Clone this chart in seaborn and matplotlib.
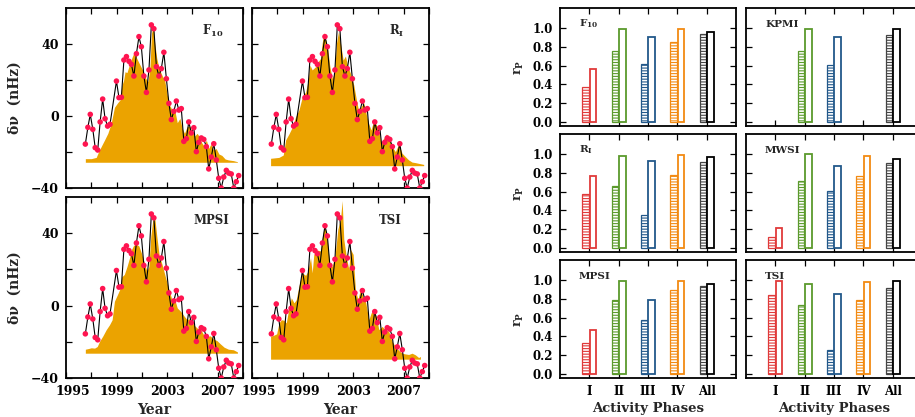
import numpy as np
import pandas as pd
import matplotlib
matplotlib.use("Agg")
import matplotlib.pyplot as plt
from matplotlib.transforms import ScaledTranslation
import seaborn as sns

# ---------------- data: frequency shift (same in all four left panels) ----------------
years = [1996.53, 1996.73, 1996.92, 1997.12, 1997.31, 1997.51, 1997.70, 1997.90, 1998.09, 1998.29, 1998.48,
         1998.99, 1999.19, 1999.38, 1999.58, 1999.78, 1999.98, 2000.17, 2000.37, 2000.57, 2000.77,
         2000.96, 2001.16, 2001.36, 2001.56, 2001.75, 2001.95, 2002.15, 2002.35, 2002.54, 2002.74,
         2002.94, 2003.14, 2003.33, 2003.53, 2003.73, 2003.93, 2004.12, 2004.32, 2004.52, 2004.71,
         2004.91, 2005.11, 2005.31, 2005.50, 2005.70, 2005.90, 2006.10, 2006.29, 2006.49, 2006.69,
         2006.89, 2007.08, 2007.28, 2007.48, 2007.68, 2007.87, 2008.07, 2008.27, 2008.47, 2008.66]
dnu = [-15.6, -6.3, 0.9, -7.4, -17.6, -18.9, -3.3, 9.4, -1.5, -5.6, -4.6,
       19.4, 10.2, 10.4, 31.1, 33.0, 30.4, 28.7, 22.2, 34.6, 44.1,
       38.5, 22.2, 13.1, 25.6, 50.6, 48.5, 27.4, 22.2, 26.3, 35.4,
       20.7, 7.0, -2.0, 2.6, 8.3, 3.3, 4.1, -14.1, -12.6, -3.3,
       -9.4, -6.5, -19.8, -14.6, -12.2, -13.0, -17.0, -29.4, -22.8, -15.4,
       -24.4, -34.6, -40.0, -33.9, -30.2, -31.7, -32.2, -40.0, -36.5, -33.1]

# ---------------- scaled activity proxies (orange areas) ----------------
f10_years = [1996.53, 1997.00, 1997.39, 1997.58, 1997.78, 1998.05, 1998.31, 1998.57, 1998.83, 1999.09,
             1999.27, 1999.41, 1999.56, 1999.67, 1999.82, 2000.01, 2000.19, 2000.35, 2000.48, 2000.66,
             2000.92, 2001.13, 2001.31, 2001.47, 2001.63, 2001.76, 2001.89, 2002.02, 2002.18, 2002.36,
             2002.62, 2002.80, 2003.01, 2003.22, 2003.41, 2003.59, 2003.80, 2004.01, 2004.19, 2004.37,
             2004.58, 2004.79, 2004.97, 2005.18, 2005.37, 2005.55, 2005.73, 2005.92, 2006.10, 2006.28,
             2006.46, 2006.67, 2006.88, 2007.09, 2007.33, 2007.59, 2007.85, 2008.24, 2008.56]
f10_vals = [-23.7, -23.7, -23.0, -19.8, -17.0, -13.3, -9.6, -4.1, 4.8, 7.4,
            8.9, 16.7, 20.0, 24.6, 24.1, 28.3, 32.0, 34.8, 33.9, 31.1,
            27.4, 24.6, 20.9, 19.1, 25.6, 45.9, 50.0, 40.4, 32.0, 26.5,
            22.2, 20.0, 11.7, 5.6, 3.3, 3.7, -3.7, -1.3, -6.9, -9.6,
            -5.9, -5.6, -8.7, -11.1, -9.6, -11.5, -14.8, -16.7, -13.3, -18.0,
            -15.6, -18.9, -18.1, -21.1, -21.9, -23.9, -24.4, -24.8, -25.4]
f10_base = -25.7

ri_years = [1996.47, 1996.74, 1997.13, 1997.47, 1997.66, 1997.92, 1998.18, 1998.45, 1998.71, 1998.97,
            1999.24, 1999.45, 1999.58, 1999.76, 2000.03, 2000.21, 2000.42, 2000.55, 2000.68, 2000.84,
            2001.00, 2001.16, 2001.34, 2001.53, 2001.68, 2001.84, 2002.00, 2002.21, 2002.39, 2002.58,
            2002.79, 2003.05, 2003.26, 2003.45, 2003.63, 2003.84, 2004.05, 2004.24, 2004.42, 2004.63,
            2004.84, 2005.03, 2005.21, 2005.42, 2005.63, 2005.82, 2006.08, 2006.34, 2006.61, 2006.87,
            2007.13, 2007.39, 2007.66, 2007.92, 2008.18, 2008.58]
ri_vals = [-23.5, -23.3, -23.0, -21.7, -13.3, -10.0, -6.3, -0.4, 3.3, 10.4,
           13.3, 20.0, 28.3, 25.6, 27.4, 30.0, 32.0, 40.4, 46.3, 42.2,
           36.7, 27.4, 20.9, 24.1, 40.4, 46.9, 40.4, 31.1, 33.3, 27.4,
           23.7, 17.2, 8.9, 2.4, 5.2, 7.4, 0.6, -4.4, -7.8, -2.2,
           -5.0, -8.7, -15.2, -12.4, -10.0, -11.5, -17.0, -19.8, -15.6, -20.7,
           -22.6, -24.4, -25.6, -25.9, -26.3, -26.9]
ri_base = -27.6

mpsi_years = [1996.53, 1996.79, 1997.00, 1997.26, 1997.47, 1997.65, 1997.92, 1998.18, 1998.44, 1998.65,
              1998.83, 1999.04, 1999.25, 1999.41, 1999.61, 1999.82, 2000.03, 2000.19, 2000.35, 2000.56,
              2000.76, 2000.97, 2001.18, 2001.39, 2001.55, 2001.71, 2001.86, 2002.02, 2002.18, 2002.36,
              2002.62, 2002.88, 2003.14, 2003.41, 2003.59, 2003.80, 2004.06, 2004.32, 2004.58, 2004.84,
              2005.10, 2005.37, 2005.63, 2005.89, 2006.15, 2006.41, 2006.67, 2006.93, 2007.20, 2007.51,
              2007.85, 2008.24, 2008.56]
mpsi_vals = [-24.1, -23.7, -23.3, -23.5, -22.6, -19.8, -16.7, -13.3, -10.6, -7.8,
             2.4, 5.6, 8.9, 15.9, 17.2, 21.5, 26.5, 31.1, 33.3, 33.9,
             33.0, 28.9, 24.1, 19.1, 21.5, 38.5, 46.9, 48.7, 38.5, 28.3,
             22.2, 15.4, 8.9, 2.4, 3.7, -1.3, -3.1, -5.6, -7.8, -6.9,
             -10.6, -12.4, -13.0, -16.1, -17.0, -16.7, -18.5, -19.3, -21.1, -23.0,
             -24.1, -24.4, -25.6]
mpsi_base = -26.3

tsi_years = [1996.47, 1996.74, 1996.95, 1997.13, 1997.32, 1997.53, 1997.71, 1997.92, 1998.11, 1998.32,
             1998.50, 1998.71, 1998.97, 1999.24, 1999.42, 1999.63, 1999.76, 1999.89, 2000.16, 2000.42,
             2000.58, 2000.74, 2000.95, 2001.13, 2001.34, 2001.58, 2001.79, 2002.00, 2002.13, 2002.26,
             2002.47, 2002.66, 2002.79, 2003.00, 2003.18, 2003.37, 2003.58, 2003.79, 2004.00, 2004.24,
             2004.42, 2004.63, 2004.84, 2005.03, 2005.29, 2005.55, 2005.82, 2006.08, 2006.34, 2006.61,
             2006.87, 2007.13, 2007.39, 2007.66, 2007.92, 2008.18, 2008.32]
tsi_vals = [-17.0, -16.3, -15.6, -9.6, -7.8, -8.1, -9.6, -1.3, 4.3, 1.5,
            3.3, 10.7, 18.1, 16.7, 19.1, 26.5, 18.1, 28.3, 30.7, 30.2,
            38.5, 44.4, 36.7, 23.7, 21.5, 28.3, 42.2, 47.8, 58.0, 36.7,
            26.5, 20.0, 31.1, 28.3, 8.9, 3.3, 8.9, 4.8, 1.5, -7.8,
            -4.1, -2.2, -6.3, -13.3, -11.5, -13.3, -14.3, -19.8, -22.6, -24.8,
            -26.3, -26.7, -27.0, -26.3, -27.2, -28.7, -28.1]
tsi_base = -29.6

# ---------------- correlation coefficients (right panels) ----------------
phases = ["I", "II", "III", "IV", "All"]
nan = np.nan
f10_phase = [0.37, 0.75, 0.62, 0.85, 0.93]
f10_total = [0.56, 0.99, 0.90, 0.99, 0.96]
kpmi_phase = [nan, 0.75, 0.61, nan, 0.92]
kpmi_total = [nan, 0.99, 0.90, nan, 0.99]
ri_phase = [0.57, 0.66, 0.35, 0.78, 0.915]
ri_total = [0.76, 0.98, 0.92, 0.99, 0.97]
mwsi_phase = [0.12, 0.71, 0.61, 0.76, 0.90]
mwsi_total = [0.21, 1.00, 0.87, 0.98, 0.94]
mpsi_phase = [0.33, 0.79, 0.57, 0.89, 0.93]
mpsi_total = [0.47, 0.99, 0.79, 0.99, 0.96]
tsi_phase = [0.84, 0.735, 0.26, 0.79, 0.91]
tsi_total = [0.99, 0.96, 0.85, 0.98, 0.99]

phase_colors = ["#e03a3a", "#5b9a2c", "#22588a", "#f28a12", "#444444"]
open_colors = ["#e03a3a", "#5b9a2c", "#22588a", "#f28a12", "#000000"]
RED = "#ff1450"
ORANGE = "#eba300"

# ---------------- style ----------------
sns.set_theme(style="ticks")
plt.rcParams["font.family"] = ["DejaVu Serif"]
plt.rcParams["font.weight"] = "bold"
plt.rcParams["axes.labelweight"] = "bold"
plt.rcParams["mathtext.fontset"] = "dejavuserif"
plt.rcParams["hatch.linewidth"] = 0.8
plt.rcParams["axes.edgecolor"] = "black"
plt.rcParams["xtick.color"] = "black"
plt.rcParams["ytick.color"] = "black"

W, H = 915, 417
fig = plt.figure(figsize=(W / 100, H / 100), dpi=100)


def box(x0, y0, x1, y1):
    return [x0 / W, 1 - y1 / H, (x1 - x0) / W, (y1 - y0) / H]


def style_axes(ax, size):
    for s in ax.spines.values():
        s.set_linewidth(1.3)
        s.set_color("black")
    ax.tick_params(direction="in", top=True, right=True, length=4, width=0.9,
                   labelsize=size, pad=5)


# ---------------- left: frequency shift vs proxies ----------------
left_panels = [
    ("$\\mathbf{F_{10}}$", f10_years, f10_vals, f10_base, box(66, 8, 243, 188), True, False, 0.83),
    ("$\\mathbf{R_I}$", ri_years, ri_vals, ri_base, box(252, 8, 429, 188), False, False, 0.82),
    ("MPSI", mpsi_years, mpsi_vals, mpsi_base, box(66, 197, 243, 378), True, True, 0.82),
    ("TSI", tsi_years, tsi_vals, tsi_base, box(252, 197, 429, 378), False, True, 0.78),
]
for label, py, pv, base, pos, show_y, show_x, lx in left_panels:
    ax = fig.add_axes(pos)
    ax.fill_between(py, base, pv, color=ORANGE, lw=0, zorder=1)
    sns.lineplot(x=years, y=dnu, color="black", lw=0.8, sort=False, ax=ax, zorder=2)
    sns.scatterplot(x=years, y=dnu, color=RED, s=16, edgecolor="none", ax=ax, zorder=3)
    ax.set_xlim(1995, 2009)
    ax.set_ylim(-40, 60)
    style_axes(ax, 9)
    ax.set_yticks([-40, -20, 0, 20, 40])
    ax.set_xticks([1995, 1997, 1999, 2001, 2003, 2005, 2007, 2009])
    if show_y:
        ax.set_yticklabels(["\u221240", "", "0", "", "40"])
        ax.set_ylabel("\u03b4\u03bd  (nHz)", fontsize=10, labelpad=7)
    else:
        ax.set_yticklabels([])
        ax.set_ylabel("")
    if show_x:
        ax.set_xticklabels(["1995", "", "1999", "", "2003", "", "2007", ""])
        first = ax.get_xticklabels()[0]
        first.set_transform(first.get_transform() +
                            ScaledTranslation(0.07, 0, fig.dpi_scale_trans))
        ax.set_xlabel("Year", fontsize=10, labelpad=4)
    else:
        ax.set_xticklabels([])
        ax.set_xlabel("")
    ax.text(lx, 0.87, label, transform=ax.transAxes, ha="center", va="center",
            fontsize=8.5, fontweight="bold")

# ---------------- right: correlation bars ----------------
bar_panels = [
    ("$\\mathbf{F_{10}}$", f10_phase, f10_total, box(560, 8, 736, 126), True, False),
    ("KPMI", kpmi_phase, kpmi_total, box(746, 8, 922, 126), False, False),
    ("$\\mathbf{R_I}$", ri_phase, ri_total, box(560, 134, 736, 252), True, False),
    ("MWSI", mwsi_phase, mwsi_total, box(746, 134, 922, 252), False, False),
    ("MPSI", mpsi_phase, mpsi_total, box(560, 260, 736, 378), True, True),
    ("TSI", tsi_phase, tsi_total, box(746, 260, 922, 378), False, True),
]
for label, rph, rtot, pos, show_y, show_x in bar_panels:
    ax = fig.add_axes(pos)
    df = pd.DataFrame({
        "phase": phases * 2,
        "kind": ["phase"] * 5 + ["total"] * 5,
        "r": list(rph) + list(rtot),
    }).dropna()
    sns.barplot(data=df, x="phase", y="r", hue="kind", order=phases,
                hue_order=["phase", "total"], width=0.5, gap=0.08,
                errorbar=None, legend=False, ax=ax)
    for p in ax.patches:
        cx = p.get_x() + p.get_width() / 2
        idx = int(round(cx))
        if cx < idx:
            p.set_facecolor("white")
            p.set_edgecolor(phase_colors[idx])
            p.set_hatch("------")
            p.set_linewidth(0.9)
        else:
            p.set_facecolor("white")
            p.set_edgecolor(open_colors[idx])
            p.set_linewidth(1.3)
    ax.set_xlim(-1, 5)
    ax.set_ylim(-0.04, 1.21)
    style_axes(ax, 8.5)
    ax.set_yticks([0.0, 0.2, 0.4, 0.6, 0.8, 1.0])
    ax.set_xticks(range(5))
    if show_y:
        ax.set_yticklabels(["0.0", "0.2", "0.4", "0.6", "0.8", "1.0"])
        ax.set_ylabel("$\\mathbf{r_P}$", fontsize=9, labelpad=5)
    else:
        ax.set_yticklabels([])
        ax.set_ylabel("")
    if show_x:
        ax.set_xticklabels(phases, fontsize=8.5)
        ax.set_xlabel("Activity Phases", fontsize=9.5, labelpad=3)
    else:
        ax.set_xticklabels([])
        ax.set_xlabel("")
    ax.text(-0.35, 1.04, label, ha="left", va="center", fontsize=7.5, fontweight="bold")

fig.savefig("out.png", dpi=100)
